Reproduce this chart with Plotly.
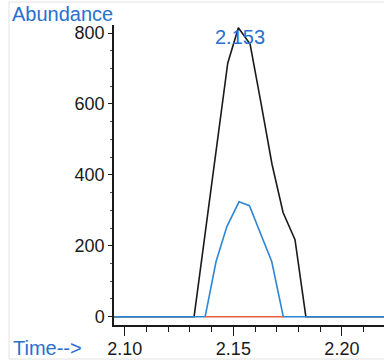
import plotly.graph_objects as go

# Data
black_t = [2.090, 2.1319, 2.1370, 2.1420, 2.1474, 2.1523, 2.1577, 2.1628, 2.1678, 2.1729, 2.1784, 2.1834, 2.225]
black_y = [0, 0, 235, 465, 715, 815, 769, 600, 430, 294, 217, 0, 0]

blue_t = [2.090, 2.1370, 2.1420, 2.1470, 2.1526, 2.1574, 2.1677, 2.1730, 2.225]
blue_y = [0, 0, 155, 254, 324, 313, 155, 0, 0]

red_t = [2.1370, 2.1730]
red_y = [0, 0]

peak_label = "2.153"
peak_time = 2.153

fig = go.Figure()
fig.add_trace(go.Scatter(x=black_t, y=black_y, mode="lines",
                         line=dict(color="#1a1a1a", width=1.6), showlegend=False))
fig.add_trace(go.Scatter(x=blue_t, y=blue_y, mode="lines",
                         line=dict(color="#2f86d6", width=1.6), showlegend=False))
fig.add_trace(go.Scatter(x=red_t, y=red_y, mode="lines",
                         line=dict(color="#e8603f", width=1.6), showlegend=False))

font_main = "Liberation Sans, Arial, sans-serif"

fig.update_layout(
    width=384, height=362,
    margin=dict(l=114, r=0, t=25, b=37),
    paper_bgcolor="white", plot_bgcolor="white",
    font=dict(family=font_main, size=18, color="#1a1a1a"),
    xaxis=dict(range=[2.0950, 2.2194], showgrid=False, zeroline=False,
               showline=True, linecolor="#1a1a1a", linewidth=1.5,
               tickmode="array", tickvals=[2.10, 2.15, 2.20],
               ticktext=["2.10", "2.15", "2.20"],
               ticks="outside", ticklen=9, tickwidth=1.3, tickcolor="#1a1a1a",
               ticklabelstandoff=-2,
               minor=dict(dtick=0.01, tick0=2.10, ticks="outside", ticklen=5,
                          tickwidth=1, tickcolor="#1a1a1a", showgrid=False),
               tickfont=dict(size=18, color="#1a1a1a")),
    yaxis=dict(range=[-23.4, 822.6], showgrid=False, zeroline=False,
               showline=True, linecolor="#1a1a1a", linewidth=1.5,
               tickmode="array", tickvals=[0, 200, 400, 600, 800],
               ticktext=["0", "200", "400", "600", "800"],
               ticks="outside", ticklen=4, tickwidth=1.2, tickcolor="#1a1a1a",
               minor=dict(dtick=50, tick0=0, ticks="outside", ticklen=2,
                          tickwidth=1, tickcolor="#555555", showgrid=False),
               tickfont=dict(size=18, color="#1a1a1a")),
)

fig.add_annotation(x=peak_time, y=789, xref="x", yref="y", text=peak_label,
                   showarrow=False, xanchor="center", yanchor="middle",
                   font=dict(size=20, color="#2a6fcf", family=font_main))
fig.add_annotation(x=(10 - 114) / 270, y=(325 - 14) / 300, xref="paper", yref="paper",
                   text="Abundance", showarrow=False, xanchor="left", yanchor="middle",
                   font=dict(size=20, color="#2a6fcf", family=font_main))
fig.add_annotation(x=(11 - 114) / 270, y=(325 - 348) / 300, xref="paper", yref="paper",
                   text="Time-->", showarrow=False, xanchor="left", yanchor="middle",
                   font=dict(size=20, color="#2a6fcf", family=font_main))

# faint scan frame
fig.add_shape(type="line", xref="paper", yref="paper",
              x0=(9 - 114) / 270, x1=(9 - 114) / 270, y0=(325 - 359) / 300, y1=(325 - 2) / 300,
              line=dict(color="#e2e2e2", width=1))
fig.add_shape(type="line", xref="paper", yref="paper",
              x0=(9 - 114) / 270, x1=1, y0=(325 - 2) / 300, y1=(325 - 2) / 300,
              line=dict(color="#e2e2e2", width=1))
fig.add_shape(type="line", xref="paper", yref="paper",
              x0=(9 - 114) / 270, x1=1, y0=(325 - 359) / 300, y1=(325 - 359) / 300,
              line=dict(color="#e2e2e2", width=1))

fig.write_html("out.html")
